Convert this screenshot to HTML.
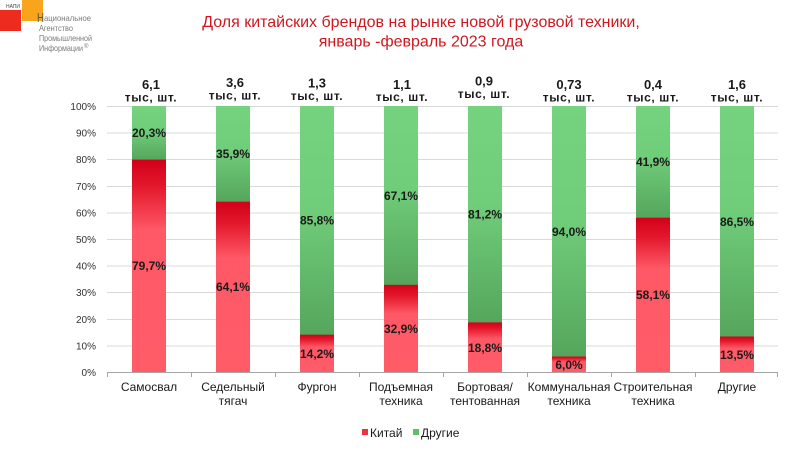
<!DOCTYPE html>
<html><head><meta charset="utf-8"><style>
html,body{margin:0;padding:0;background:#fff;}
svg{display:block;}
text{font-family:"Liberation Sans",Arial,sans-serif;}
</style></head><body>
<svg width="787" height="451" viewBox="0 0 787 451" xmlns="http://www.w3.org/2000/svg">
<defs>
<linearGradient id="rg" x1="0" y1="0" x2="0" y2="1">
<stop offset="0" stop-color="#d2001a"/>
<stop offset="0.12" stop-color="#e2162a"/>
<stop offset="0.33" stop-color="#ff5866"/>
<stop offset="1" stop-color="#ff5c68"/>
</linearGradient>
<linearGradient id="gg" x1="0" y1="0" x2="0" y2="1">
<stop offset="0" stop-color="#75d37f"/>
<stop offset="0.45" stop-color="#70cd7a"/>
<stop offset="1" stop-color="#55a65c"/>
</linearGradient>
</defs>
<!-- logo -->
<rect x="22" y="0" width="21" height="21" fill="#f8a51d"/>
<rect x="0" y="10" width="21" height="21" fill="#ee2b1f"/>
<text x="6" y="8" font-size="5" fill="#444" textLength="14" lengthAdjust="spacingAndGlyphs">НАПИ</text>
<text x="37" y="22" font-size="13" fill="#555" textLength="7" lengthAdjust="spacingAndGlyphs">Н</text>
<text x="44" y="21" font-size="8.5" fill="#7a7a7a" textLength="47" lengthAdjust="spacingAndGlyphs">ациональное</text>
<text x="39" y="31" font-size="8.5" fill="#7a7a7a" textLength="34" lengthAdjust="spacingAndGlyphs">Агентство</text>
<text x="39" y="41" font-size="8.5" fill="#7a7a7a" textLength="53" lengthAdjust="spacingAndGlyphs">Промышленной</text>
<text x="39" y="51" font-size="8.5" fill="#7a7a7a" textLength="44" lengthAdjust="spacingAndGlyphs">Информации</text>
<text x="84" y="48" font-size="6" fill="#7a7a7a">®</text>
<!-- title -->
<text x="421" y="27" font-size="16" fill="#d0171f" text-anchor="middle">Доля китайских брендов на рынке новой грузовой техники,</text>
<text x="421" y="46.5" font-size="16" fill="#d0171f" text-anchor="middle">январь -февраль 2023 года</text>
<!-- gridlines -->
<g stroke="#d9d9d9" stroke-width="1">
<line x1="107" x2="778" y1="106.5" y2="106.5"/>
<line x1="107" x2="778" y1="133" y2="133"/>
<line x1="107" x2="778" y1="159.5" y2="159.5"/>
<line x1="107" x2="778" y1="186.5" y2="186.5"/>
<line x1="107" x2="778" y1="213" y2="213"/>
<line x1="107" x2="778" y1="239.5" y2="239.5"/>
<line x1="107" x2="778" y1="266" y2="266"/>
<line x1="107" x2="778" y1="292.5" y2="292.5"/>
<line x1="107" x2="778" y1="319.5" y2="319.5"/>
<line x1="107" x2="778" y1="346" y2="346"/>
</g>
<!-- y labels -->
<g font-size="10" fill="#333" text-anchor="end">
<text x="96" y="110">100%</text>
<text x="96" y="136.5">90%</text>
<text x="96" y="163">80%</text>
<text x="96" y="190">70%</text>
<text x="96" y="216.5">60%</text>
<text x="96" y="243">50%</text>
<text x="96" y="269.5">40%</text>
<text x="96" y="296">30%</text>
<text x="96" y="323">20%</text>
<text x="96" y="349.5">10%</text>
<text x="96" y="376">0%</text>
</g>
<!-- bars -->
<g>
<rect x="132" y="106" width="34" height="54" fill="url(#gg)"/>
<rect x="132" y="159.6" width="34" height="212.9" fill="url(#rg)"/>
<rect x="216" y="106" width="34" height="96" fill="url(#gg)"/>
<rect x="216" y="201.7" width="34" height="170.8" fill="url(#rg)"/>
<rect x="300" y="106" width="34" height="229" fill="url(#gg)"/>
<rect x="300" y="334.7" width="34" height="37.8" fill="url(#rg)"/>
<rect x="384" y="106" width="34" height="179" fill="url(#gg)"/>
<rect x="384" y="284.8" width="34" height="87.7" fill="url(#rg)"/>
<rect x="468" y="106" width="34" height="217" fill="url(#gg)"/>
<rect x="468" y="322.4" width="34" height="50.1" fill="url(#rg)"/>
<rect x="552" y="106" width="34" height="251" fill="url(#gg)"/>
<rect x="552" y="356.5" width="34" height="16" fill="url(#rg)"/>
<rect x="636" y="106" width="34" height="112" fill="url(#gg)"/>
<rect x="636" y="217.7" width="34" height="154.8" fill="url(#rg)"/>
<rect x="720" y="106" width="34" height="231" fill="url(#gg)"/>
<rect x="720" y="336.5" width="34" height="36" fill="url(#rg)"/>
</g>
<!-- axis -->
<g stroke="#a6a6a6" stroke-width="1">
<line x1="107" x2="778" y1="372.5" y2="372.5"/>
<line x1="107.5" x2="107.5" y1="372.5" y2="377"/>
<line x1="191.5" x2="191.5" y1="372.5" y2="377"/>
<line x1="275.5" x2="275.5" y1="372.5" y2="377"/>
<line x1="359.5" x2="359.5" y1="372.5" y2="377"/>
<line x1="443.5" x2="443.5" y1="372.5" y2="377"/>
<line x1="527.5" x2="527.5" y1="372.5" y2="377"/>
<line x1="611.5" x2="611.5" y1="372.5" y2="377"/>
<line x1="695.5" x2="695.5" y1="372.5" y2="377"/>
<line x1="777.5" x2="777.5" y1="372.5" y2="377"/>
</g>
<!-- value labels -->
<g font-size="12" font-weight="bold" fill="#1a1a1a" text-anchor="middle">
<text x="149" y="137">20,3%</text>
<text x="149" y="270">79,7%</text>
<text x="233" y="158">35,9%</text>
<text x="233" y="291">64,1%</text>
<text x="317" y="224.5">85,8%</text>
<text x="317" y="358">14,2%</text>
<text x="401" y="200">67,1%</text>
<text x="401" y="333">32,9%</text>
<text x="485" y="218.5">81,2%</text>
<text x="485" y="352">18,8%</text>
<text x="569" y="236">94,0%</text>
<text x="569" y="369">6,0%</text>
<text x="653" y="166">41,9%</text>
<text x="653" y="299">58,1%</text>
<text x="737" y="226">86,5%</text>
<text x="737" y="359">13,5%</text>
</g>
<!-- header labels -->
<g font-weight="bold" fill="#1a1a1a" text-anchor="middle">
<g font-size="13">
<text x="151" y="89">6,1</text>
<text x="235" y="87">3,6</text>
<text x="317" y="87.5">1,3</text>
<text x="402" y="89">1,1</text>
<text x="484" y="85.5">0,9</text>
<text x="569" y="89">0,73</text>
<text x="653" y="89">0,4</text>
<text x="737" y="89">1,6</text>
</g>
<g font-size="12" letter-spacing="0.6">
<text x="151" y="101.5">тыс, шт.</text>
<text x="235" y="99.5">тыс, шт.</text>
<text x="317" y="100">тыс, шт.</text>
<text x="402" y="101">тыс, шт.</text>
<text x="484" y="98">тыс, шт.</text>
<text x="569" y="101.5">тыс, шт.</text>
<text x="653" y="101.5">тыс, шт.</text>
<text x="737" y="101.5">тыс, шт.</text>
</g>
</g>
<!-- category labels -->
<g font-size="12" fill="#1a1a1a" text-anchor="middle">
<text x="149" y="391">Самосвал</text>
<text x="233" y="391">Седельный</text>
<text x="233" y="405">тягач</text>
<text x="317" y="391">Фургон</text>
<text x="401" y="391">Подъемная</text>
<text x="401" y="405">техника</text>
<text x="485" y="391">Бортовая/</text>
<text x="485" y="405">тентованная</text>
<text x="569" y="391">Коммунальная</text>
<text x="569" y="405">техника</text>
<text x="653" y="391">Строительная</text>
<text x="653" y="405">техника</text>
<text x="737" y="391">Другие</text>
</g>
<!-- legend -->
<rect x="362" y="429" width="6" height="6" fill="#f0303e"/>
<text x="370" y="437" font-size="12" fill="#1a1a1a">Китай</text>
<rect x="413" y="429" width="6" height="6" fill="#5fbf68"/>
<text x="421" y="437" font-size="12" fill="#1a1a1a">Другие</text>
</svg>
</body></html>
